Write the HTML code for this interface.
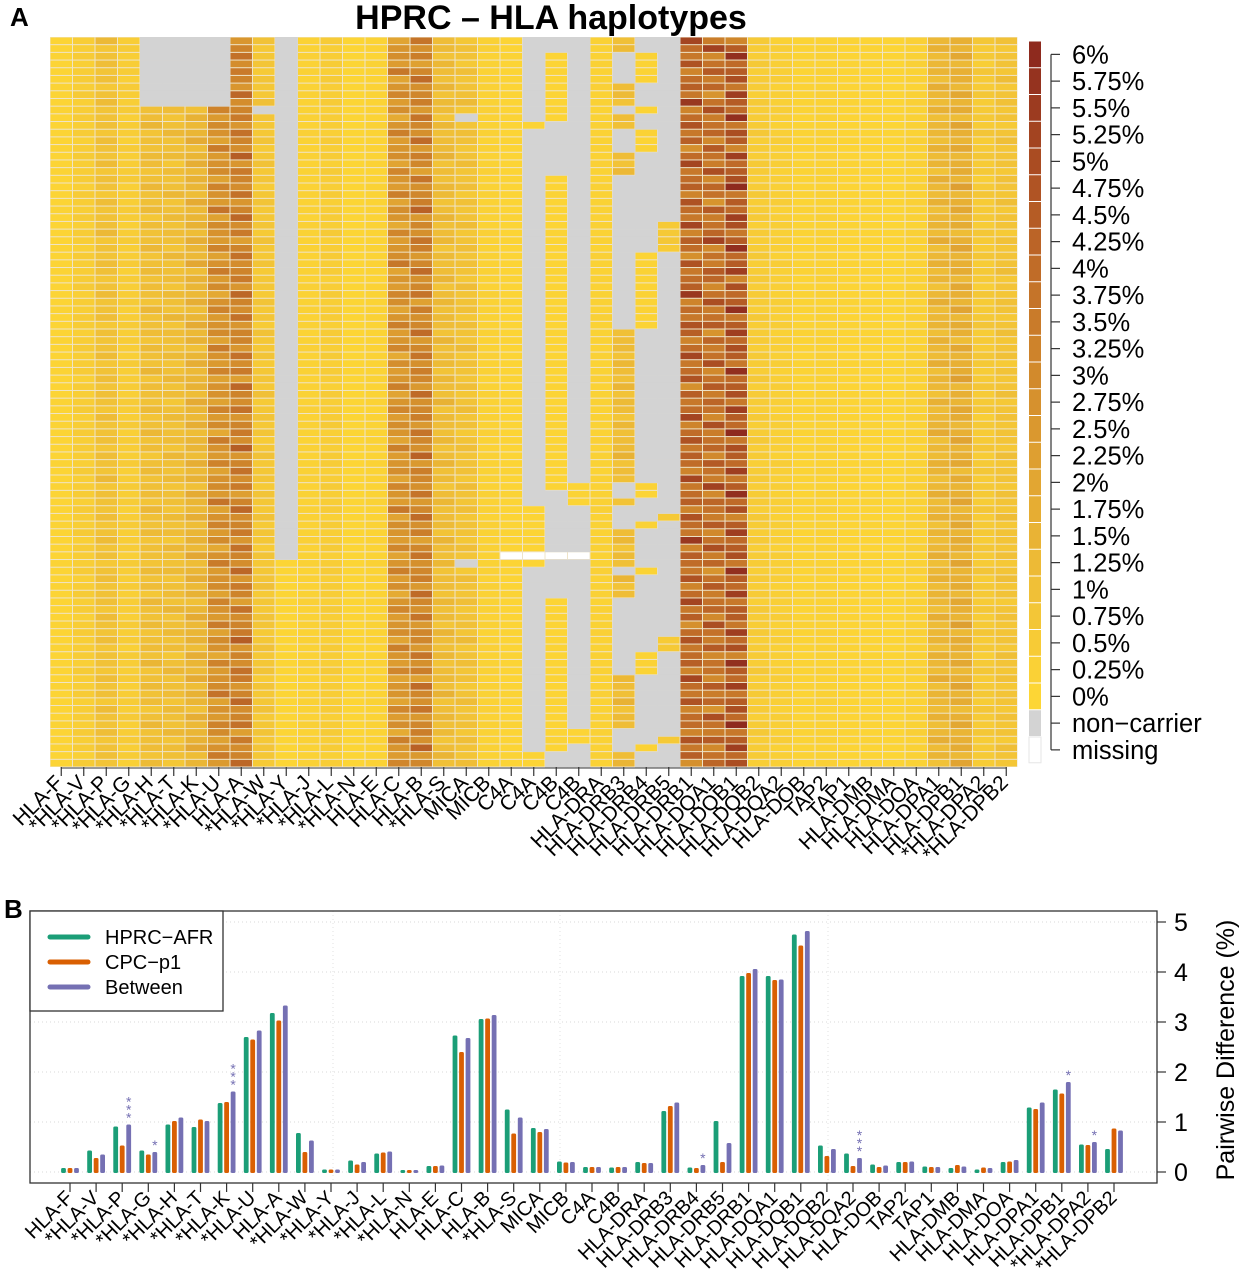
<!DOCTYPE html>
<html><head><meta charset="utf-8">
<style>
html,body{margin:0;padding:0;background:#fff;}
svg{display:block;font-family:"Liberation Sans",sans-serif;}
</style></head>
<body>
<svg id="fig" width="1242" height="1280" viewBox="0 0 1242 1280" xmlns="http://www.w3.org/2000/svg">
<text x="10" y="26" font-size="26" font-weight="bold">A</text>
<text x="551" y="29" font-size="34" font-weight="bold" text-anchor="middle">HPRC – HLA haplotypes</text>
<g id="heat"></g>
<g id="hx"></g>
<g id="cbar"></g>
<text x="4" y="918" font-size="26" font-weight="bold">B</text>
<g id="bars"></g>
</svg>
<script>
// ---------- Heatmap data ----------
const heatGenes = ["HLA-F","*HLA-V","*HLA-P","*HLA-G","*HLA-H","*HLA-T","*HLA-K","*HLA-U","HLA-A","*HLA-W","*HLA-Y","*HLA-J","*HLA-L","*HLA-N","HLA-E","HLA-C","HLA-B","*HLA-S","MICA","MICB","C4A","C4A","C4B","C4B","HLA-DRA","HLA-DRB3","HLA-DRB4","HLA-DRB5","HLA-DRB1","HLA-DQA1","HLA-DQB1","HLA-DQB2","HLA-DQA2","HLA-DOB","TAP2","TAP1","HLA-DMB","HLA-DMA","HLA-DOA","HLA-DPA1","HLA-DPB1","*HLA-DPA2","*HLA-DPB2"];
const heatColMean = [0.1,0.4,0.9,0.4,1.0,1.0,1.4,2.7,3.2,0.7,0.05,0.2,0.4,0.05,0.15,2.6,3.1,1.1,0.85,0.2,0.1,0.1,0.1,0.1,0.2,1.1,0.15,0.6,4.0,3.8,4.5,0.45,0.3,0.13,0.2,0.1,0.1,0.07,0.22,1.3,1.6,0.55,0.8];
const heatRowVar = [1.0,0.8,1.2,0.9,1.1,0.7,1.3,1.0,0.9,1.2,0.8,1.0,1.1,0.9,1.4,0.8,1.0,1.2,0.9,1.1,0.7,1.0,1.3,0.9,1.0,1.1,0.8,1.2,1.0,0.9,1.3,0.8,1.1,1.0,0.7,1.2,0.9,1.0,1.1,1.4,0.8,1.0,0.9,1.2,1.1,0.8,1.0,1.3,0.9,1.0,1.2,0.7,1.1,0.9,1.0,1.3,0.8,1.0,1.2,0.9,1.1,1.0,0.8,1.3,0.9,1.0,1.1,0.8,1.2,1.0,0.9,1.4,0.8,1.1,1.0,0.9,1.2,0.8,1.0,1.3,0.9,1.1,0.7,1.0,1.2,0.9,1.0,1.1,0.8,1.3,1.0,0.9,1.2,0.8,1.0];
// non-carrier (grey) row ranges per column index: [col, fromRow, toRow]
const heatGray = [[4,0,8],[5,0,8],[6,0,8],[7,0,8],[9,9,9],[10,0,67],[18,10,10],[18,68,68],
 [21,0,10],[21,12,60],[21,69,92],
 [22,0,1],[22,11,17],[22,59,72],[22,93,94],
 [23,0,57],[23,61,89],[23,92,94],
 [25,2,5],[25,9,9],[25,12,14],[25,18,37],[25,58,59],[25,61,63],[25,69,69],[25,73,82],[25,90,92],
 [26,0,1],[26,6,8],[26,10,11],[26,15,27],[26,38,57],[26,60,62],[26,64,68],[26,70,79],[26,83,91],[26,93,94],
 [27,0,23],[27,28,61],[27,63,77],[27,80,90],[27,92,94]];
const heatMissing = [[20,67],[21,67],[22,67],[23,67]];
const legendLabels = ["6%","5.75%","5.5%","5.25%","5%","4.75%","4.5%","4.25%","4%","3.75%","3.5%","3.25%","3%","2.75%","2.5%","2.25%","2%","1.75%","1.5%","1.25%","1%","0.75%","0.5%","0.25%","0%","non\u2212carrier","missing"];

// ---------- Bar chart data ----------
const barGenes = ["HLA-F","*HLA-V","*HLA-P","*HLA-G","*HLA-H","*HLA-T","*HLA-K","*HLA-U","HLA-A","*HLA-W","*HLA-Y","*HLA-J","*HLA-L","*HLA-N","HLA-E","HLA-C","HLA-B","*HLA-S","MICA","MICB","C4A","C4B","HLA-DRA","HLA-DRB3","HLA-DRB4","HLA-DRB5","HLA-DRB1","HLA-DQA1","HLA-DQB1","HLA-DQB2","HLA-DQA2","HLA-DOB","TAP2","TAP1","HLA-DMB","HLA-DMA","HLA-DOA","HLA-DPA1","HLA-DPB1","*HLA-DPA2","*HLA-DPB2"];
const afrValues = [0.08,0.43,0.91,0.43,0.95,0.90,1.38,2.70,3.18,0.78,0.05,0.23,0.37,0.04,0.12,2.73,3.06,1.25,0.88,0.21,0.10,0.09,0.20,1.22,0.09,1.02,3.92,3.92,4.75,0.53,0.37,0.15,0.20,0.11,0.08,0.05,0.20,1.29,1.65,0.55,0.46];
const cpcValues = [0.08,0.28,0.53,0.35,1.02,1.05,1.40,2.65,3.03,0.40,0.05,0.15,0.39,0.04,0.12,2.40,3.07,0.77,0.80,0.19,0.10,0.10,0.18,1.32,0.08,0.20,3.98,3.84,4.53,0.32,0.12,0.10,0.20,0.10,0.14,0.09,0.21,1.26,1.57,0.54,0.87];
const betweenValues = [0.08,0.35,0.95,0.40,1.09,1.02,1.61,2.83,3.33,0.63,0.05,0.20,0.41,0.04,0.13,2.68,3.14,1.09,0.86,0.20,0.10,0.10,0.18,1.39,0.14,0.58,4.06,3.85,4.82,0.46,0.28,0.13,0.21,0.10,0.11,0.08,0.24,1.39,1.80,0.60,0.83];
const starCounts = [0,0,3,1,0,0,3,0,0,0,0,0,0,0,0,0,0,0,0,0,0,0,0,0,1,0,0,0,0,0,3,0,0,0,0,0,0,0,1,1,0];
const yTicks = [0,1,2,3,4,5];
const seriesNames = ["HPRC\u2212AFR","CPC\u2212p1","Between"];

const NS = "http://www.w3.org/2000/svg";
function mk(tag, attrs, parent){const e=document.createElementNS(NS,tag);for(const k in attrs)e.setAttribute(k,attrs[k]);parent.appendChild(e);return e;}

const stops=[[0,[253,214,53]],[1,[240,192,55]],[2,[226,166,50]],[3,[210,138,44]],[4,[192,108,40]],[5,[170,76,34]],[6,[142,42,30]]];
function colorFor(v){v=Math.max(0,Math.min(6,v));let i=Math.min(5,Math.floor(v));const t=v-i;const a=stops[i][1],b=stops[i+1][1];
 return "rgb("+a.map((x,k)=>Math.round(x+(b[k]-x)*t)).join(",")+")";}

// ---------- Heatmap ----------
const HX0=50, HX1=1017.5, HY0=37, HY1=767, NROW=95;
const colW=(HX1-HX0)/heatGenes.length, rowH=(HY1-HY0)/NROW;
const hx = c => HX0 + c*colW;
const hy = r => HY0 + r*rowH;
const heat=document.getElementById('heat');
const grayMap={};
heatGray.forEach(g=>{for(let r=g[1];r<=g[2];r++)grayMap[g[0]+"_"+r]=1;});
const missMap={};
heatMissing.forEach(m=>{missMap[m[0]+"_"+m[1]]=1;});
mk('rect',{x:HX0,y:HY0,width:HX1-HX0,height:HY1-HY0,fill:'#efe4c8'},heat);
for(let c=0;c<heatGenes.length;c++){
 for(let r=0;r<NROW;r++){
  const key=c+"_"+r;
  let el;
  if(missMap[key]){
   el=mk('rect',{x:hx(c)+0.5,y:hy(r)+0.5,width:colW-1,height:rowH-1,fill:'#ffffff'},heat);
  } else if(grayMap[key]){
   el=mk('rect',{x:hx(c),y:hy(r),width:colW+0.3,height:rowH+0.3,fill:'#d3d3d3'},heat);
  } else {
   const v=heatColMean[c]*heatRowVar[(r+c*7)%heatRowVar.length];
   el=mk('rect',{x:hx(c)+0.5,y:hy(r)+0.5,width:colW-1,height:rowH-1,fill:colorFor(v)},heat);
  }
  
  
 }
}
const hxg=document.getElementById('hx');
mk('line',{x1:hx(0)+colW/2,x2:hx(heatGenes.length-1)+colW/2,y1:HY1+1,y2:HY1+1,stroke:'#333','stroke-width':1},hxg);
heatGenes.forEach((g,i)=>{
 const cx=hx(i)+colW/2;
 mk('line',{x1:cx,x2:cx,y1:HY1,y2:HY1+9,stroke:'#333','stroke-width':1.2},hxg);
 const t=mk('text',{x:cx+3,y:HY1+17,'font-size':21,'text-anchor':'end',transform:`rotate(-45 ${cx+3} ${HY1+17})`},hxg);
 t.textContent=g;
 
 
});
const cb=document.getElementById('cbar');
const CB0=41, CBH=26.75;
legendLabels.forEach((lab,i)=>{
 let fill;
 if(i<25) fill=colorFor(6-i*0.25); else if(i===25) fill='#d3d3d3'; else fill='#ffffff';
 const r=mk('rect',{x:1029,y:CB0+i*CBH+0.5,width:12,height:CBH-1,fill:fill,stroke:i===26?'#e6e6e6':'none'},cb);
 
 
 const cy=CB0+i*CBH+CBH/2;
 mk('line',{x1:1051,x2:1060,y1:cy,y2:cy,stroke:'#333','stroke-width':1.2},cb);
 const t=mk('text',{x:1072,y:cy+9,'font-size':25.5},cb);
 t.textContent=lab;
 
 
});
mk('line',{x1:1051,x2:1051,y1:CB0+CBH/2,y2:CB0+26.5*CBH,stroke:'#333','stroke-width':1.2},cb);

// ---------- Bar chart ----------
const bars=document.getElementById('bars');
const BX0=30,BX1=1157,BY0=911,BY1=1183;
const xPos = i => 70 + i*26.1;
const yPos = v => 1172 - v*50;
yTicks.forEach(t=>{mk('line',{x1:BX0,x2:BX1,y1:yPos(t),y2:yPos(t),stroke:'#d8d8d8','stroke-width':1,'stroke-dasharray':'1,3'},bars);});
[333,560,828].forEach(x=>{mk('line',{x1:x,x2:x,y1:BY0,y2:BY1,stroke:'#e2e2e2','stroke-width':1,'stroke-dasharray':'1,3'},bars);});
const colors=['#1b9e77','#d95f02','#7570b3'];
const series=[afrValues,cpcValues,betweenValues];
const offs=[-6.5,0,6.5];
const sNames=['bar-hprc-afr','bar-cpc-p1','bar-between'];
barGenes.forEach((g,i)=>{
 series.forEach((s,k)=>{
  const x=xPos(i)+offs[k], top=yPos(s[i]);
  const r=mk('rect',{x:x-2.4,y:top,width:4.8,height:Math.max(1,yPos(0)-top+1),fill:colors[k],rx:1.5},bars);
  
  
 });
 for(let n=0;n<starCounts[i];n++){
  const st=mk('text',{x:xPos(i)+offs[2],y:yPos(betweenValues[i])-2-n*8,'font-size':14,'text-anchor':'middle',fill:'#7570b3'},bars);
  st.textContent='*';
  
  
 }
 const cx=xPos(i);
 mk('line',{x1:cx,x2:cx,y1:BY1,y2:BY1+9,stroke:'#333','stroke-width':1.2},bars);
 const t=mk('text',{x:cx+4,y:BY1+16,'font-size':20,'text-anchor':'end',transform:`rotate(-45 ${cx+4} ${BY1+16})`},bars);
 t.textContent=g;
 
 
});
const box=mk('rect',{x:BX0,y:BY0,width:BX1-BX0,height:BY1-BY0,fill:'none',stroke:'#333','stroke-width':1.3},bars);


yTicks.forEach(t=>{
 mk('line',{x1:BX1,x2:BX1+9,y1:yPos(t),y2:yPos(t),stroke:'#333','stroke-width':1.2},bars);
 const l=mk('text',{x:1174,y:yPos(t)+9,'font-size':25},bars);
 l.textContent=String(t);
 
 
});
const yt=mk('text',{x:1234,y:1050,'font-size':25,'text-anchor':'middle',transform:'rotate(-90 1234 1050)'},bars);
yt.textContent='Pairwise Difference (%)';


const lg=mk('g',{},bars);


mk('rect',{x:BX0,y:BY0,width:193,height:100,fill:'#fff',stroke:'#333','stroke-width':1.3},lg);
seriesNames.forEach((n,k)=>{
 const y=937+k*25;
 mk('line',{x1:50,x2:88,y1:y,y2:y,stroke:colors[k],'stroke-width':5,'stroke-linecap':'round'},lg);
 const t=mk('text',{x:105,y:y+7,'font-size':20},lg);
 t.textContent=n;
 
 
});
</script>
</body></html>
